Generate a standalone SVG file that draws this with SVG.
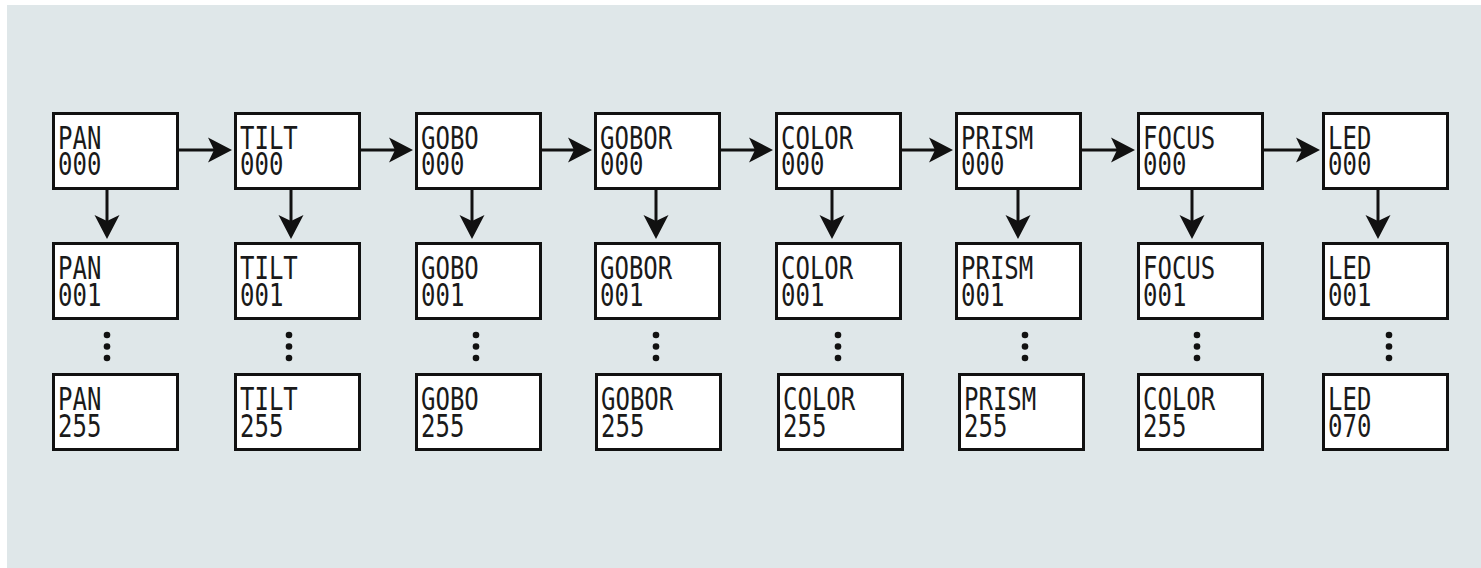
<svg xmlns="http://www.w3.org/2000/svg" width="1481" height="568" viewBox="0 0 1481 568">
<style>
.box{fill:#ffffff;stroke:#111111;stroke-width:3}
.t{font-family:"DejaVu Sans Mono","Liberation Mono",monospace;font-size:32px;fill:#1a1a1a}
.c{fill:none;stroke:#111111;stroke-width:3}
.dot{fill:#111111}
</style>
<defs>
<marker id="ah" viewBox="-24 -13 24 26" refX="-12" refY="0" markerWidth="24" markerHeight="26" markerUnits="userSpaceOnUse" orient="auto">
<path d="M0,0 L-24,-12.5 L-18,0 L-24,12.5 Z" fill="#111111"/>
</marker>
</defs>
<rect x="7" y="5" width="1474" height="563" fill="#dfe7e9"/>
<g id="connectors">
<line class="c" x1="179" y1="150" x2="220" y2="150" marker-end="url(#ah)"/>
<line class="c" x1="361" y1="150" x2="401" y2="150" marker-end="url(#ah)"/>
<line class="c" x1="542" y1="150" x2="580" y2="150" marker-end="url(#ah)"/>
<line class="c" x1="721" y1="150" x2="761" y2="150" marker-end="url(#ah)"/>
<line class="c" x1="902" y1="150" x2="941" y2="150" marker-end="url(#ah)"/>
<line class="c" x1="1082" y1="150" x2="1123" y2="150" marker-end="url(#ah)"/>
<line class="c" x1="1264" y1="150" x2="1308" y2="150" marker-end="url(#ah)"/>
<line class="c" x1="107" y1="190" x2="107" y2="227" marker-end="url(#ah)"/>
<line class="c" x1="291" y1="190" x2="291" y2="227" marker-end="url(#ah)"/>
<line class="c" x1="472" y1="190" x2="472" y2="227" marker-end="url(#ah)"/>
<line class="c" x1="656" y1="190" x2="656" y2="227" marker-end="url(#ah)"/>
<line class="c" x1="832" y1="190" x2="832" y2="227" marker-end="url(#ah)"/>
<line class="c" x1="1018" y1="190" x2="1018" y2="227" marker-end="url(#ah)"/>
<line class="c" x1="1192" y1="190" x2="1192" y2="227" marker-end="url(#ah)"/>
<line class="c" x1="1378" y1="190" x2="1378" y2="227" marker-end="url(#ah)"/>
<g id="ellipses">
<circle class="dot" cx="107" cy="335" r="3.3"/><circle class="dot" cx="107" cy="346.5" r="3.3"/><circle class="dot" cx="107" cy="358" r="3.3"/>
<circle class="dot" cx="289" cy="335" r="3.3"/><circle class="dot" cx="289" cy="346.5" r="3.3"/><circle class="dot" cx="289" cy="358" r="3.3"/>
<circle class="dot" cx="476" cy="335" r="3.3"/><circle class="dot" cx="476" cy="346.5" r="3.3"/><circle class="dot" cx="476" cy="358" r="3.3"/>
<circle class="dot" cx="656" cy="335" r="3.3"/><circle class="dot" cx="656" cy="346.5" r="3.3"/><circle class="dot" cx="656" cy="358" r="3.3"/>
<circle class="dot" cx="838" cy="335" r="3.3"/><circle class="dot" cx="838" cy="346.5" r="3.3"/><circle class="dot" cx="838" cy="358" r="3.3"/>
<circle class="dot" cx="1025" cy="335" r="3.3"/><circle class="dot" cx="1025" cy="346.5" r="3.3"/><circle class="dot" cx="1025" cy="358" r="3.3"/>
<circle class="dot" cx="1197" cy="335" r="3.3"/><circle class="dot" cx="1197" cy="346.5" r="3.3"/><circle class="dot" cx="1197" cy="358" r="3.3"/>
<circle class="dot" cx="1389" cy="335" r="3.3"/><circle class="dot" cx="1389" cy="346.5" r="3.3"/><circle class="dot" cx="1389" cy="358" r="3.3"/>
</g>
</g>
<g id="pan000"><rect class="box" x="53.5" y="113.5" width="124" height="75"/><text class="t" transform="translate(58,0) scale(0.75,1)"><tspan x="0" y="149">PAN</tspan><tspan x="0" y="175">000</tspan></text></g>
<g id="pan001"><rect class="box" x="53.5" y="243.5" width="124" height="75"/><text class="t" transform="translate(58,0) scale(0.75,1)"><tspan x="0" y="279">PAN</tspan><tspan x="0" y="306">001</tspan></text></g>
<g id="pan255"><rect class="box" x="53.5" y="374.5" width="124" height="75"/><text class="t" transform="translate(58,0) scale(0.75,1)"><tspan x="0" y="410">PAN</tspan><tspan x="0" y="437">255</tspan></text></g>

<g id="tilt000"><rect class="box" x="235.5" y="113.5" width="124" height="75"/><text class="t" transform="translate(240,0) scale(0.75,1)"><tspan x="0" y="149">TILT</tspan><tspan x="0" y="175">000</tspan></text></g>
<g id="tilt001"><rect class="box" x="235.5" y="243.5" width="124" height="75"/><text class="t" transform="translate(240,0) scale(0.75,1)"><tspan x="0" y="279">TILT</tspan><tspan x="0" y="306">001</tspan></text></g>
<g id="tilt255"><rect class="box" x="235.5" y="374.5" width="124" height="75"/><text class="t" transform="translate(240,0) scale(0.75,1)"><tspan x="0" y="410">TILT</tspan><tspan x="0" y="437">255</tspan></text></g>

<g id="gobo000"><rect class="box" x="416.5" y="113.5" width="124" height="75"/><text class="t" transform="translate(421,0) scale(0.75,1)"><tspan x="0" y="149">GOBO</tspan><tspan x="0" y="175">000</tspan></text></g>
<g id="gobo001"><rect class="box" x="416.5" y="243.5" width="124" height="75"/><text class="t" transform="translate(421,0) scale(0.75,1)"><tspan x="0" y="279">GOBO</tspan><tspan x="0" y="306">001</tspan></text></g>
<g id="gobo255"><rect class="box" x="416.5" y="374.5" width="124" height="75"/><text class="t" transform="translate(421,0) scale(0.75,1)"><tspan x="0" y="410">GOBO</tspan><tspan x="0" y="437">255</tspan></text></g>

<g id="gobor000"><rect class="box" x="595.5" y="113.5" width="124" height="75"/><text class="t" transform="translate(600,0) scale(0.75,1)"><tspan x="0" y="149">GOBOR</tspan><tspan x="0" y="175">000</tspan></text></g>
<g id="gobor001"><rect class="box" x="595.5" y="243.5" width="124" height="75"/><text class="t" transform="translate(600,0) scale(0.75,1)"><tspan x="0" y="279">GOBOR</tspan><tspan x="0" y="306">001</tspan></text></g>
<g id="gobor255"><rect class="box" x="596.5" y="374.5" width="124" height="75"/><text class="t" transform="translate(601,0) scale(0.75,1)"><tspan x="0" y="410">GOBOR</tspan><tspan x="0" y="437">255</tspan></text></g>

<g id="color000"><rect class="box" x="776.5" y="113.5" width="124" height="75"/><text class="t" transform="translate(781,0) scale(0.75,1)"><tspan x="0" y="149">COLOR</tspan><tspan x="0" y="175">000</tspan></text></g>
<g id="color001"><rect class="box" x="776.5" y="243.5" width="124" height="75"/><text class="t" transform="translate(781,0) scale(0.75,1)"><tspan x="0" y="279">COLOR</tspan><tspan x="0" y="306">001</tspan></text></g>
<g id="color255"><rect class="box" x="778.5" y="374.5" width="124" height="75"/><text class="t" transform="translate(783,0) scale(0.75,1)"><tspan x="0" y="410">COLOR</tspan><tspan x="0" y="437">255</tspan></text></g>

<g id="prism000"><rect class="box" x="956.5" y="113.5" width="124" height="75"/><text class="t" transform="translate(961,0) scale(0.75,1)"><tspan x="0" y="149">PRISM</tspan><tspan x="0" y="175">000</tspan></text></g>
<g id="prism001"><rect class="box" x="956.5" y="243.5" width="124" height="75"/><text class="t" transform="translate(961,0) scale(0.75,1)"><tspan x="0" y="279">PRISM</tspan><tspan x="0" y="306">001</tspan></text></g>
<g id="prism255"><rect class="box" x="959.5" y="374.5" width="124" height="75"/><text class="t" transform="translate(964,0) scale(0.75,1)"><tspan x="0" y="410">PRISM</tspan><tspan x="0" y="437">255</tspan></text></g>

<g id="focus000"><rect class="box" x="1138.5" y="113.5" width="124" height="75"/><text class="t" transform="translate(1143,0) scale(0.75,1)"><tspan x="0" y="149">FOCUS</tspan><tspan x="0" y="175">000</tspan></text></g>
<g id="focus001"><rect class="box" x="1138.5" y="243.5" width="124" height="75"/><text class="t" transform="translate(1143,0) scale(0.75,1)"><tspan x="0" y="279">FOCUS</tspan><tspan x="0" y="306">001</tspan></text></g>
<g id="focus255"><rect class="box" x="1138.5" y="374.5" width="124" height="75"/><text class="t" transform="translate(1143,0) scale(0.75,1)"><tspan x="0" y="410">COLOR</tspan><tspan x="0" y="437">255</tspan></text></g>

<g id="led000"><rect class="box" x="1323.5" y="113.5" width="124" height="75"/><text class="t" transform="translate(1328,0) scale(0.75,1)"><tspan x="0" y="149">LED</tspan><tspan x="0" y="175">000</tspan></text></g>
<g id="led001"><rect class="box" x="1323.5" y="243.5" width="124" height="75"/><text class="t" transform="translate(1328,0) scale(0.75,1)"><tspan x="0" y="279">LED</tspan><tspan x="0" y="306">001</tspan></text></g>
<g id="led070"><rect class="box" x="1323.5" y="374.5" width="124" height="75"/><text class="t" transform="translate(1328,0) scale(0.75,1)"><tspan x="0" y="410">LED</tspan><tspan x="0" y="437">070</tspan></text></g>
</svg>
